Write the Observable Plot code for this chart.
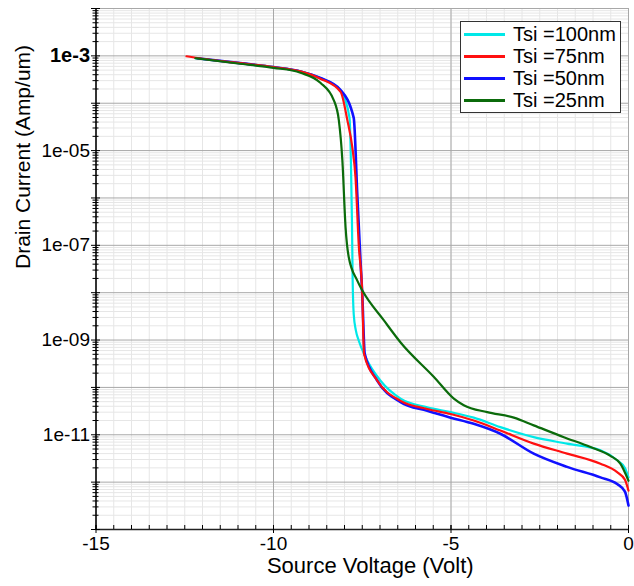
<!DOCTYPE html>
<html>
<head>
<meta charset="utf-8">
<script src="https://cdn.jsdelivr.net/npm/d3@7"></script>
<script src="https://cdn.jsdelivr.net/npm/@observablehq/plot@0.6"></script>
<style>
  html, body { margin: 0; padding: 0; background: #fff; }
  #wrap { position: relative; width: 634px; height: 586px; font-family: "Liberation Sans", Arial, sans-serif; }
  #legend { position: absolute; left: 460px; top: 21px; width: 159px; height: 88px; padding: 1px 0; border: 1px solid #333; background: #fff; }
  .row { display: flex; align-items: center; height: 22px; }
  .sw { width: 41px; height: 0; border-top: 3px solid; margin-left: 3px; margin-right: 8px; }
  .lb { font-size: 20px; color: #000; line-height: 22px; white-space: nowrap; }
</style>
</head>
<body>
<div id="wrap"><div id="legend"></div></div>
<script>
// ---- Data ----
const seriesNames = ["Tsi =100nm", "Tsi =75nm", "Tsi =50nm", "Tsi =25nm"];
const seriesColors = ["#00e8e8", "#ff1010", "#1010ff", "#0b6b0b"];

// Tsi = 100 nm
const vTsi100 = [-12.2, -11, -10, -9.24, -8.68, -8.11, -7.86, -7.82, -7.79, -7.77, -7.74, -7.68, -7.60, -7.41, -6.99, -6.42, -5.67, -5.01, -4.36, -3.61, -2.67, -1.73, -0.79, -0.32, -0.1, 0];
const iTsi100 = [8.9e-4, 7.1e-4, 5.8e-4, 4.7e-4, 3.4e-4, 1.86e-4, 5.0e-5, 6.3e-6, 3.2e-7, 1.8e-8, 3.5e-9, 1.6e-9, 9.8e-10, 4.4e-10, 1.4e-10, 5.8e-11, 3.8e-11, 3.0e-11, 2.3e-11, 1.45e-11, 8.9e-12, 6.5e-12, 4.7e-12, 2.9e-12, 2.0e-12, 1.26e-12];

// Tsi = 75 nm
const vTsi75 = [-12.45, -12, -11, -10, -9.24, -8.68, -8.11, -7.92, -7.78, -7.69, -7.60, -7.50, -7.45, -7.08, -6.42, -5.67, -5.01, -4.36, -3.61, -2.67, -1.73, -0.79, -0.32, -0.1, 0];
const iTsi75 = [9.8e-4, 8.7e-4, 7.1e-4, 5.8e-4, 4.7e-4, 3.3e-4, 1.74e-4, 4.4e-5, 1.17e-5, 2.75e-6, 1.07e-7, 9.5e-9, 5.1e-10, 1.4e-10, 5.2e-11, 3.5e-11, 2.75e-11, 2.0e-11, 1.23e-11, 6.5e-12, 4.0e-12, 2.45e-12, 1.62e-12, 1.12e-12, 6.6e-13];

// Tsi = 50 nm
const vTsi50 = [-12.15, -11, -10, -9.24, -8.68, -8.11, -7.74, -7.64, -7.55, -7.50, -7.43, -7.08, -6.42, -5.67, -5.01, -4.36, -3.61, -2.67, -1.73, -0.79, -0.32, -0.1, 0];
const iTsi50 = [8.9e-4, 7.1e-4, 5.8e-4, 4.7e-4, 3.4e-4, 1.9e-4, 4.9e-5, 1.2e-6, 4.8e-8, 9.5e-9, 5.1e-10, 1.4e-10, 4.9e-11, 3.2e-11, 2.3e-11, 1.7e-11, 1.05e-11, 4.0e-12, 2.1e-12, 1.26e-12, 9.1e-13, 6.3e-13, 3.2e-13];

// Tsi = 25 nm
const vTsi25 = [-12.2, -11, -10, -9.24, -8.68, -8.30, -8.16, -8.06, -7.97, -7.88, -7.64, -7.50, -6.89, -6.42, -5.48, -4.92, -4.64, -3.98, -3.23, -2.67, -1.82, -1.07, -0.51, -0.23, 0];
const iTsi25 = [8.9e-4, 6.9e-4, 5.6e-4, 4.4e-4, 2.7e-4, 1.15e-4, 4.4e-5, 6.2e-6, 2.4e-7, 5.6e-8, 1.8e-8, 1.12e-8, 2.6e-9, 8.9e-10, 1.66e-10, 5.8e-11, 4.2e-11, 3.0e-11, 2.3e-11, 1.58e-11, 8.9e-12, 5.5e-12, 3.6e-12, 2.45e-12, 1.07e-12];

// Ticks
const xTickValues = [-15, -10, -5, 0];
const xTickLabels = ["-15", "-10", "-5", "0"];
const yTickValues = [1e-3, 1e-5, 1e-7, 1e-9, 1e-11];
const yTickLabels = ["1e-3", "1e-05", "1e-07", "1e-09", "1e-11"];
const xTitle = "Source Voltage (Volt)";
const yTitle = "Drain Current (Amp/um)";

// ---- Build table ----
const vArrs = [vTsi100, vTsi75, vTsi50, vTsi25];
const iArrs = [iTsi100, iTsi75, iTsi50, iTsi25];
const rows = [];
vArrs.forEach((vs, s) => vs.forEach((v, k) => rows.push({series: seriesNames[s], v, i: iArrs[s][k]})));

const xMinor = d3.range(-15, 0.001, 0.5);
const yDecades = d3.range(-13, -1.5, 1).map(e => Math.pow(10, e));
const yMinor = [];
yDecades.slice(0, -1).forEach(d => { for (let m = 2; m <= 9; m++) yMinor.push(d * m); });
const xLabelMap = new Map(xTickValues.map((v, k) => [v, xTickLabels[k]]));
const yLabelMap = new Map(yTickValues.map((v, k) => [v, yTickLabels[k]]));

const order = [0, 2, 1, 3];
const lineMarks = order.map(s => Plot.line(rows.filter(r => r.series === seriesNames[s]), {
  x: "v", y: "i", stroke: seriesColors[s], strokeWidth: s === 2 ? 2.6 : 2.2, curve: "monotone-x"
}));

const chart = Plot.plot({
  width: 634, height: 586,
  marginLeft: 95.5, marginRight: 6, marginTop: 8, marginBottom: 57,
  style: {fontFamily: "'Liberation Sans', Arial, sans-serif", fontSize: "19px", color: "#000", background: "transparent"},
  x: {domain: [-15, 0]},
  y: {type: "log", domain: [1e-13, 1e-2]},
  marks: [
    Plot.gridX(xMinor, {stroke: "#e6e6e6", strokeOpacity: 1}),
    Plot.gridY(yMinor, {stroke: "#e6e6e6", strokeOpacity: 1}),
    Plot.gridX(xTickValues, {stroke: "#a8a8a8", strokeOpacity: 1}),
    Plot.gridY(yDecades, {stroke: "#a8a8a8", strokeOpacity: 1}),
    ...lineMarks,
    Plot.ruleX([-15], {stroke: "#000", strokeWidth: 1.5}),
    Plot.ruleY([1e-13], {stroke: "#222", strokeWidth: 1.5}),
    Plot.axisY(yMinor, {tickSize: 6, dx: 3, tickFormat: () => "", label: null}),
    Plot.axisY(yDecades, {tickSize: 9, dx: 4.5, tickFormat: () => "", label: null}),
    Plot.axisY(yTickValues.slice(1), {tickSize: 0, tickPadding: 6, tickFormat: d => yLabelMap.get(d), fontSize: 19, label: null}),
    Plot.axisY(yTickValues.slice(0, 1), {tickSize: 0, tickPadding: 6, tickFormat: d => yLabelMap.get(d), fontSize: 20, fontWeight: "bold", label: null}),
    Plot.axisX(xMinor, {tickSize: 4, dy: -4, tickFormat: () => "", label: null}),
    Plot.axisX(xTickValues, {tickSize: 8, dy: -4, tickFormat: () => "", label: null}),
    Plot.axisX(xTickValues, {tickSize: 0, tickPadding: 7, tickFormat: d => xLabelMap.get(d), fontSize: 19, label: null}),
    Plot.text([xTitle], {text: d => d, frameAnchor: "bottom", dy: 43, dx: 8, fontSize: 22, letterSpacing: "0.4px"}),
    Plot.text([yTitle], {text: d => d, frameAnchor: "left", rotate: -90, dx: -73, fontSize: 21, letterSpacing: "0.5px"})
  ]
});
document.getElementById("wrap").prepend(chart);

// Legend
const legend = document.getElementById("legend");
seriesNames.forEach((n, s) => {
  const row = document.createElement("div");
  row.className = "row";
  row.innerHTML = `<span class="sw" style="border-color:${seriesColors[s]}"></span><span class="lb">${n}</span>`;
  legend.appendChild(row);
});
</script>
</body>
</html>
